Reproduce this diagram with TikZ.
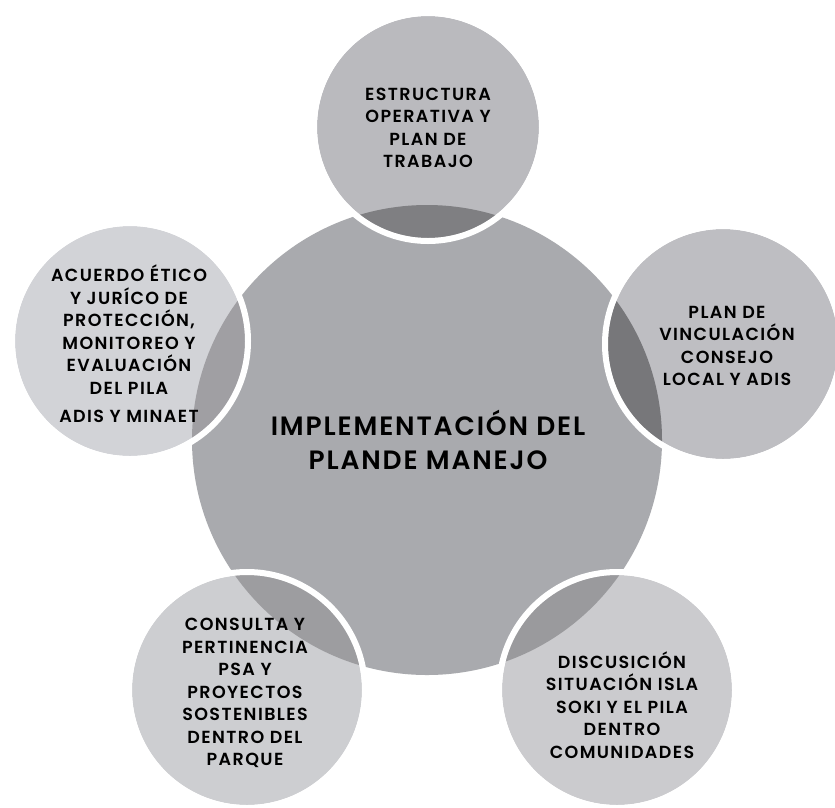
\documentclass[tikz,border=0pt]{standalone}
\usepackage{fontspec}
\setmainfont{Poppins}[BoldFont={Poppins SemiBold}]
\definecolor{centrogris}{HTML}{A9AAAE}
\definecolor{arribagris}{HTML}{BABABE}
\definecolor{arribaoscuro}{HTML}{7F7F82}
\definecolor{izqgris}{HTML}{D2D3D7}
\definecolor{izqoscuro}{HTML}{A09FA3}
\definecolor{dergris}{HTML}{BEBEC2}
\definecolor{deroscuro}{HTML}{77777A}
\definecolor{abizqgris}{HTML}{CDCED1}
\definecolor{abizqoscuro}{HTML}{9D9DA0}
\definecolor{abdergris}{HTML}{CBCBCE}
\definecolor{abderoscuro}{HTML}{9A9A9D}
\tikzset{
	borde/.style={draw=white, line width=6pt},
	lema/.style={align=center, font=\fontsize{17.5}{22.5}\selectfont\bfseries\addfontfeatures{LetterSpace=8}, text=black},
	titulo/.style={align=center, font=\fontsize{26.5}{34}\selectfont\bfseries\addfontfeatures{LetterSpace=7}, text=black}
}
\begin{document}
\begin{tikzpicture}[x=1pt, y=-1pt]
	\useasboundingbox (0,0) rectangle (835,807);
	\fill[white] (0,0) rectangle (835,807);
	\draw[fill=centrogris, draw=none] (427,440) circle (235pt);
	\draw[fill=arribagris, draw=none] (428,127) circle (111pt);
	\begin{scope}
		\clip (427,440) circle (235pt);
		\fill[arribaoscuro] (428,127) circle (111pt);
	\end{scope}
	\draw[borde] (428,127) circle (114pt);
	\draw[fill=izqgris, draw=none] (130,341) circle (115pt);
	\begin{scope}
		\clip (427,440) circle (235pt);
		\fill[izqoscuro] (130,341) circle (115pt);
	\end{scope}
	\draw[borde] (130,341) circle (118pt);
	\draw[fill=dergris, draw=none] (723,344) circle (115pt);
	\begin{scope}
		\clip (427,440) circle (235pt);
		\fill[deroscuro] (723,344) circle (115pt);
	\end{scope}
	\draw[borde] (723,344) circle (118pt);
	\draw[fill=abizqgris, draw=none] (247,690) circle (115pt);
	\begin{scope}
		\clip (427,440) circle (235pt);
		\fill[abizqoscuro] (247,690) circle (115pt);
	\end{scope}
	\draw[borde] (247,690) circle (118pt);
	\draw[fill=abdergris, draw=none] (617,690) circle (115pt);
	\begin{scope}
		\clip (427,440) circle (235pt);
		\fill[abderoscuro] (617,690) circle (115pt);
	\end{scope}
	\draw[borde] (617,690) circle (118pt);
	\node[titulo] (implementacion) at (428,440) {IMPLEMENTACIÓN DEL\\PLANDE MANEJO};
	\node[lema] (estructura) at (428,128) {ESTRUCTURA\\OPERATIVA Y\\PLAN DE\\TRABAJO};
	\node[lema] (acuerdo) at (129,344) {ACUERDO ÉTICO\\Y JURÍCO DE\\PROTECCIÓN,\\MONITOREO Y\\EVALUACIÓN\\DEL PILA\\[6pt]ADIS Y MINAET};
	\node[lema] (vinculacion) at (727,346) {PLAN DE\\VINCULACIÓN\\CONSEJO\\LOCAL Y ADIS};
	\node[lema] (consulta) at (245,693) {CONSULTA Y\\PERTINENCIA\\PSA Y\\PROYECTOS\\SOSTENIBLES\\DENTRO DEL\\PARQUE};
	\node[lema] (discusion) at (622,705) {DISCUSICIÓN\\SITUACIÓN ISLA\\SOKI Y EL PILA\\DENTRO\\COMUNIDADES};
\end{tikzpicture}
\end{document}
